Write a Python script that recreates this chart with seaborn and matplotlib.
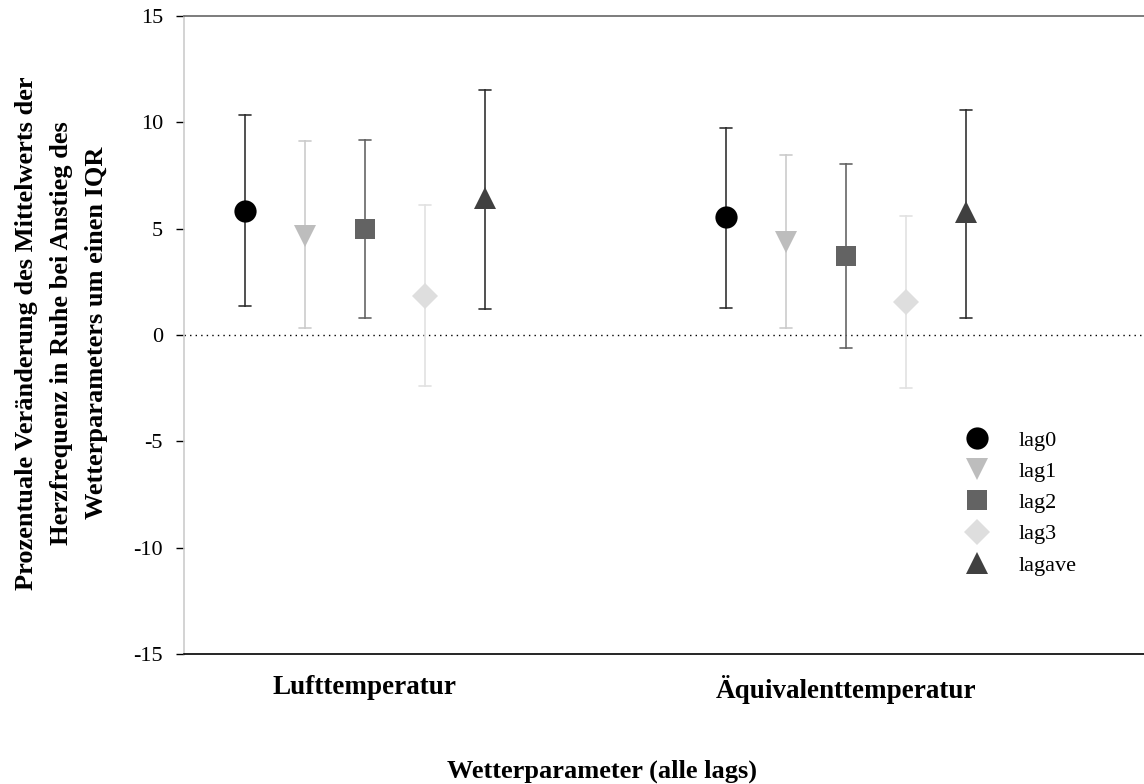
import matplotlib
matplotlib.use("Agg")
import matplotlib.pyplot as plt
import seaborn as sns
import pandas as pd

# categories
parameters = ["Lufttemperatur", "Äquivalenttemperatur"]
lags = ["lag0", "lag1", "lag2", "lag3", "lagave"]

# estimates and 95% CI per lag (order as in lags)
est_luft = [5.85, 4.65, 4.97, 1.85, 6.45]
lo_luft = [1.36, 0.34, 0.78, -2.38, 1.21]
hi_luft = [10.34, 9.13, 9.15, 6.11, 11.5]

est_aeq = [5.53, 4.35, 3.71, 1.54, 5.8]
lo_aeq = [1.28, 0.34, -0.61, -2.49, 0.78]
hi_aeq = [9.75, 8.48, 8.02, 5.59, 10.6]

colors = ["#000000", "#bdbdbd", "#636363", "#dedede", "#404040"]
err_colors = ["#333333", "#cccccc", "#666666", "#e2e2e2", "#333333"]
markers = ["o", "v", "s", "D", "^"]
msizes = {"o": 16, "v": 16, "s": 14, "D": 13, "^": 16}


def build_frame():
    rows = []
    for param, est, lo, hi in [(parameters[0], est_luft, lo_luft, hi_luft),
                               (parameters[1], est_aeq, lo_aeq, hi_aeq)]:
        for i, lag in enumerate(lags):
            # median of (lo, est, hi) is the estimate, min/max are the CI
            for v in (lo[i], est[i], hi[i]):
                rows.append({"parameter": param, "lag": lag, "value": v})
    return pd.DataFrame(rows)


def main():
    sns.set_theme(style="white")
    plt.rcParams["font.family"] = ["Liberation Serif", "DejaVu Serif"]
    plt.rcParams["axes.unicode_minus"] = False
    for key in ["text.color", "axes.labelcolor", "xtick.color", "ytick.color"]:
        plt.rcParams[key] = "black"

    df = build_frame()
    fig = plt.figure(figsize=(11.44, 7.84), dpi=100)
    ax = fig.add_axes([0.1608, 0.1658, 0.8392, 0.8138])

    sns.pointplot(data=df, x="parameter", y="value", hue="lag",
                  order=parameters, hue_order=lags,
                  estimator="median", errorbar=("pi", 100),
                  dodge=0.5, markers=markers, linestyle="none",
                  palette=colors, capsize=0.025,
                  err_kws={"linewidth": 1.2}, ax=ax)

    # per-lag marker sizes and error bar shades
    col_map = dict(zip([matplotlib.colors.to_hex(c) for c in colors], err_colors))
    for line in ax.lines:
        m = line.get_marker()
        if m in msizes:
            line.set_markersize(msizes[m])
            line.set_markeredgewidth(0)
        else:
            c = matplotlib.colors.to_hex(line.get_color())
            if c in col_map:
                line.set_color(col_map[c])
            line.set_zorder(1)

    ax.axhline(0, color="black", linestyle=(0, (1, 3)), linewidth=1, zorder=0)

    ax.set_ylim(-15, 15)
    ax.set_yticks([-15, -10, -5, 0, 5, 10, 15])
    ax.set_xlim(-0.376, 1.62)

    ax.spines["right"].set_visible(False)
    ax.spines["left"].set_color("#cccccc")
    ax.spines["left"].set_linewidth(1.2)
    ax.spines["top"].set_color("#666666")
    ax.spines["top"].set_linewidth(1.2)
    ax.spines["bottom"].set_color("black")
    ax.spines["bottom"].set_linewidth(1.2)

    ax.tick_params(axis="y", left=True, length=6, width=1, color="black",
                   pad=9, labelsize=16)
    ax.tick_params(axis="x", bottom=False, length=0, pad=15, labelsize=19.5)
    for lbl in ax.get_xticklabels():
        lbl.set_fontweight("bold")

    ax.set_ylabel("Prozentuale Veränderung des Mittelwerts der\n"
                  "Herzfrequenz in Ruhe bei Anstieg des\n"
                  "Wetterparameters um einen IQR",
                  fontsize=19, fontweight="bold", linespacing=1.68)
    ax.yaxis.set_label_coords(-0.079, 0.503)
    ax.set_xlabel("Wetterparameter (alle lags)", fontsize=19, fontweight="bold")
    ax.xaxis.set_label_coords(0.435, -0.166)

    leg = ax.legend(loc="upper left", bbox_to_anchor=(0.803, 0.351),
                    frameon=False, fontsize=16, labelspacing=0.48,
                    handlelength=2.0, handletextpad=0.85,
                    borderpad=0, borderaxespad=0, title=None)
    for h in leg.legend_handles:
        m = h.get_marker()
        if m in msizes:
            h.set_markersize(msizes[m])
        h.set_linestyle("none")

    fig.savefig("out.png", dpi=100)
    plt.close(fig)


if __name__ == "__main__":
    main()
